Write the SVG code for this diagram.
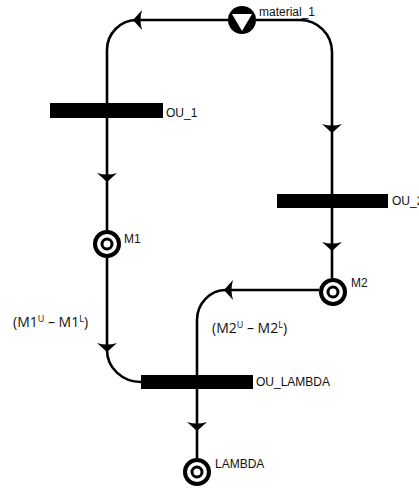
<svg xmlns="http://www.w3.org/2000/svg" xmlns:xlink="http://www.w3.org/1999/xlink" width="419" height="488" viewBox="0 0 419 488">
<style>
.ln{fill:none;stroke:#000;stroke-width:2.6}
.bar{fill:#000}
.lb{font-family:"Liberation Sans",Arial,sans-serif;font-size:12px;fill:#111}
.ex{font-family:"Open Sans","Liberation Sans",sans-serif;font-size:14px;fill:#111}
.ring{fill:#fff;stroke:#000}
</style>
<defs>
<path id="ah" d="M0,0 L-10,-9 Q0,-6 10,-9 Z" fill="#000"/>
<g id="place">
<circle r="12" class="ring" stroke-width="4"/>
<circle r="5" class="ring" stroke-width="3"/>
</g>
</defs>
<rect width="419" height="488" fill="#fff"/>
<g id="connectors">
<path class="ln" d="M228,20 L137,20 A30 30 0 0 0 107,50 L107,232"/>
<path class="ln" d="M256,20 L300,20 A32 32 0 0 1 332,52 L332,278"/>
<path class="ln" d="M107,256 L107,350 A34 32 0 0 0 141,382"/>
<path class="ln" d="M319,290 L226,290 A29 30 0 0 0 197,320 L197,458"/>
<use xlink:href="#ah" transform="translate(133,20) rotate(90)"/>
<use xlink:href="#ah" transform="translate(107,182)"/>
<use xlink:href="#ah" transform="translate(107,352)"/>
<use xlink:href="#ah" transform="translate(332,133)"/>
<use xlink:href="#ah" transform="translate(332,251)"/>
<use xlink:href="#ah" transform="translate(224,290) rotate(90)"/>
<use xlink:href="#ah" transform="translate(197,431)"/>
</g>
<g id="material_1">
<circle cx="242" cy="20" r="14" fill="#000"/>
<path d="M232,14 L252,14 L242,31 Z" fill="#fff"/>
<text class="lb" x="259" y="16">material_1</text>
</g>
<g id="OU_1">
<rect class="bar" x="50" y="103" width="113" height="15"/>
<text class="lb" x="166" y="117">OU_1</text>
</g>
<g id="OU_2">
<rect class="bar" x="277" y="194" width="111" height="14"/>
<text class="lb" x="392" y="205">OU_2</text>
</g>
<g id="OU_LAMBDA">
<rect class="bar" x="141" y="375" width="112" height="14"/>
<text class="lb" x="256" y="386">OU_LAMBDA</text>
</g>
<g id="M1">
<use xlink:href="#place" transform="translate(107,244)"/>
<text class="lb" x="124" y="243">M1</text>
</g>
<g id="M2">
<use xlink:href="#place" transform="translate(333,292)"/>
<text class="lb" x="351" y="287">M2</text>
</g>
<g id="LAMBDA">
<use xlink:href="#place" transform="translate(197,472)"/>
<text class="lb" x="215" y="468">LAMBDA</text>
</g>
<g id="labels">
<text class="ex" x="13" y="327">(M1<tspan font-size="9" dy="-5">U</tspan><tspan dy="5"> – M1</tspan><tspan font-size="9" dy="-5">L</tspan><tspan dy="5">)</tspan></text>
<text class="ex" x="212" y="333">(M2<tspan font-size="9" dy="-5">U</tspan><tspan dy="5"> – M2</tspan><tspan font-size="9" dy="-5">L</tspan><tspan dy="5">)</tspan></text>
</g>
</svg>
